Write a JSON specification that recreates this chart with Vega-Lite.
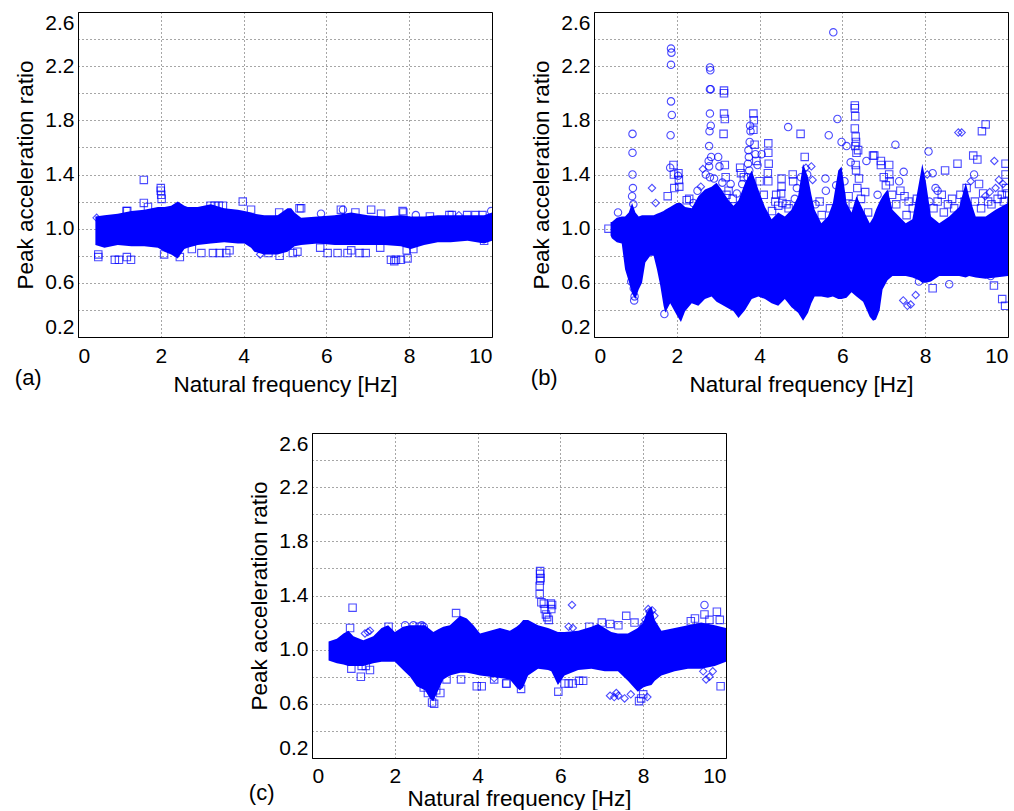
{
  "$schema": "https://vega.github.io/schema/vega-lite/v6.json",
  "padding": {"left": 14, "top": 11, "right": 0, "bottom": 0},
  "background": "white",
  "spacing": 36,
  "datasets": {
    "bandA": [
      {"f": 0.42, "lo": 0.88, "hi": 1.09}, {"f": 0.64, "lo": 0.86, "hi": 1.10}, {"f": 0.96, "lo": 0.88, "hi": 1.11},
      {"f": 1.29, "lo": 0.87, "hi": 1.13}, {"f": 1.60, "lo": 0.87, "hi": 1.14}, {"f": 1.93, "lo": 0.86, "hi": 1.16},
      {"f": 2.09, "lo": 0.83, "hi": 1.16}, {"f": 2.25, "lo": 0.81, "hi": 1.17}, {"f": 2.41, "lo": 0.78, "hi": 1.20},
      {"f": 2.57, "lo": 0.85, "hi": 1.17}, {"f": 2.65, "lo": 0.86, "hi": 1.16}, {"f": 2.89, "lo": 0.88, "hi": 1.16},
      {"f": 3.21, "lo": 0.89, "hi": 1.18}, {"f": 3.53, "lo": 0.90, "hi": 1.15}, {"f": 3.86, "lo": 0.89, "hi": 1.14},
      {"f": 4.02, "lo": 0.89, "hi": 1.13}, {"f": 4.18, "lo": 0.86, "hi": 1.12}, {"f": 4.26, "lo": 0.83, "hi": 1.11},
      {"f": 4.50, "lo": 0.81, "hi": 1.10}, {"f": 4.82, "lo": 0.81, "hi": 1.10}, {"f": 5.06, "lo": 0.83, "hi": 1.15},
      {"f": 5.15, "lo": 0.85, "hi": 1.15}, {"f": 5.23, "lo": 0.87, "hi": 1.12}, {"f": 5.39, "lo": 0.88, "hi": 1.08},
      {"f": 5.79, "lo": 0.89, "hi": 1.09}, {"f": 6.20, "lo": 0.88, "hi": 1.10}, {"f": 6.60, "lo": 0.88, "hi": 1.12},
      {"f": 7.00, "lo": 0.88, "hi": 1.10}, {"f": 7.40, "lo": 0.88, "hi": 1.09}, {"f": 7.80, "lo": 0.87, "hi": 1.10},
      {"f": 8.04, "lo": 0.85, "hi": 1.09}, {"f": 8.36, "lo": 0.88, "hi": 1.09}, {"f": 8.69, "lo": 0.90, "hi": 1.10},
      {"f": 9.00, "lo": 0.90, "hi": 1.10}, {"f": 9.41, "lo": 0.91, "hi": 1.10}, {"f": 9.81, "lo": 0.89, "hi": 1.10},
      {"f": 10.0, "lo": 0.91, "hi": 1.12}
    ],
    "ptsA": [
      {"f": 1.59, "r": 1.36, "m": "s"}, {"f": 2.00, "r": 1.30, "m": "s"}, {"f": 2.00, "r": 1.28, "m": "s"},
      {"f": 2.01, "r": 1.25, "m": "s"}, {"f": 2.02, "r": 1.22, "m": "s"}, {"f": 1.59, "r": 1.19, "m": "s"},
      {"f": 1.69, "r": 1.16, "m": "s"}, {"f": 3.98, "r": 1.20, "m": "s"}, {"f": 5.39, "r": 1.15, "m": "s"},
      {"f": 6.35, "r": 1.14, "m": "s"}, {"f": 7.08, "r": 1.14, "m": "s"}, {"f": 5.87, "r": 1.11, "m": "c"},
      {"f": 7.86, "r": 1.12, "m": "s"}, {"f": 9.03, "r": 1.10, "m": "s"}, {"f": 9.98, "r": 1.13, "m": "c"},
      {"f": 1.17, "r": 1.13, "m": "s"}, {"f": 1.19, "r": 1.13, "m": "s"}, {"f": 3.20, "r": 1.17, "m": "s"},
      {"f": 3.30, "r": 1.17, "m": "s"}, {"f": 3.40, "r": 1.17, "m": "s"}, {"f": 3.50, "r": 1.17, "m": "s"},
      {"f": 4.18, "r": 1.14, "m": "s"}, {"f": 4.86, "r": 1.12, "m": "s"}, {"f": 5.35, "r": 1.15, "m": "s"},
      {"f": 6.40, "r": 1.14, "m": "c"}, {"f": 6.70, "r": 1.12, "m": "s"}, {"f": 7.32, "r": 1.11, "m": "s"},
      {"f": 7.84, "r": 1.13, "m": "s"}, {"f": 8.16, "r": 1.10, "m": "c"}, {"f": 8.50, "r": 1.09, "m": "s"},
      {"f": 8.97, "r": 1.10, "m": "s"}, {"f": 9.20, "r": 1.10, "m": "d"}, {"f": 9.40, "r": 1.10, "m": "s"},
      {"f": 9.60, "r": 1.10, "m": "s"}, {"f": 9.77, "r": 1.10, "m": "s"}, {"f": 0.45, "r": 1.08, "m": "d"},
      {"f": 0.49, "r": 0.79, "m": "s"}, {"f": 0.49, "r": 0.81, "m": "s"}, {"f": 0.89, "r": 0.77, "m": "s"},
      {"f": 0.99, "r": 0.77, "m": "s"}, {"f": 1.18, "r": 0.79, "m": "s"}, {"f": 1.28, "r": 0.77, "m": "s"},
      {"f": 2.08, "r": 0.81, "m": "s"}, {"f": 2.46, "r": 0.79, "m": "s"}, {"f": 2.75, "r": 0.85, "m": "s"},
      {"f": 2.98, "r": 0.82, "m": "s"}, {"f": 3.26, "r": 0.82, "m": "s"}, {"f": 3.42, "r": 0.82, "m": "s"},
      {"f": 3.58, "r": 0.82, "m": "s"}, {"f": 3.66, "r": 0.84, "m": "s"}, {"f": 4.87, "r": 0.80, "m": "s"},
      {"f": 5.19, "r": 0.82, "m": "s"}, {"f": 5.30, "r": 0.83, "m": "s"}, {"f": 5.85, "r": 0.86, "m": "s"},
      {"f": 6.03, "r": 0.82, "m": "s"}, {"f": 6.27, "r": 0.82, "m": "s"}, {"f": 6.51, "r": 0.82, "m": "s"},
      {"f": 6.60, "r": 0.84, "m": "s"}, {"f": 6.80, "r": 0.82, "m": "s"}, {"f": 6.95, "r": 0.82, "m": "s"},
      {"f": 7.30, "r": 0.86, "m": "s"}, {"f": 7.56, "r": 0.77, "m": "s"}, {"f": 7.64, "r": 0.76, "m": "s"},
      {"f": 7.68, "r": 0.77, "m": "s"}, {"f": 7.80, "r": 0.77, "m": "s"}, {"f": 7.96, "r": 0.78, "m": "s"},
      {"f": 7.94, "r": 0.84, "m": "s"}, {"f": 8.10, "r": 0.85, "m": "s"}, {"f": 9.81, "r": 0.91, "m": "s"},
      {"f": 4.60, "r": 0.82, "m": "s"}, {"f": 4.40, "r": 0.81, "m": "d"}
    ],
    "bandB": [
      {"f": 0.40, "lo": 0.95, "hi": 1.05}, {"f": 0.43, "lo": 0.93, "hi": 1.05}, {"f": 0.55, "lo": 0.90, "hi": 1.08},
      {"f": 0.67, "lo": 0.89, "hi": 1.09}, {"f": 0.75, "lo": 0.70, "hi": 1.09}, {"f": 0.84, "lo": 0.61, "hi": 1.12},
      {"f": 0.92, "lo": 0.52, "hi": 1.19}, {"f": 1.00, "lo": 0.48, "hi": 1.12}, {"f": 1.08, "lo": 0.55, "hi": 1.09},
      {"f": 1.16, "lo": 0.60, "hi": 1.10}, {"f": 1.24, "lo": 0.75, "hi": 1.10}, {"f": 1.36, "lo": 0.80, "hi": 1.10},
      {"f": 1.44, "lo": 0.80, "hi": 1.10}, {"f": 1.52, "lo": 0.70, "hi": 1.11}, {"f": 1.60, "lo": 0.58, "hi": 1.12},
      {"f": 1.68, "lo": 0.43, "hi": 1.13}, {"f": 1.72, "lo": 0.38, "hi": 1.14}, {"f": 1.84, "lo": 0.45, "hi": 1.16},
      {"f": 2.00, "lo": 0.36, "hi": 1.19}, {"f": 2.10, "lo": 0.31, "hi": 1.19}, {"f": 2.20, "lo": 0.39, "hi": 1.16},
      {"f": 2.36, "lo": 0.45, "hi": 1.15}, {"f": 2.52, "lo": 0.43, "hi": 1.24}, {"f": 2.68, "lo": 0.48, "hi": 1.29},
      {"f": 2.84, "lo": 0.50, "hi": 1.31}, {"f": 2.96, "lo": 0.46, "hi": 1.34}, {"f": 3.08, "lo": 0.44, "hi": 1.29},
      {"f": 3.25, "lo": 0.41, "hi": 1.21}, {"f": 3.37, "lo": 0.39, "hi": 1.17}, {"f": 3.49, "lo": 0.34, "hi": 1.21},
      {"f": 3.65, "lo": 0.40, "hi": 1.34}, {"f": 3.81, "lo": 0.48, "hi": 1.43}, {"f": 3.97, "lo": 0.50, "hi": 1.29},
      {"f": 4.13, "lo": 0.48, "hi": 1.16}, {"f": 4.29, "lo": 0.45, "hi": 1.07}, {"f": 4.45, "lo": 0.43, "hi": 1.12},
      {"f": 4.61, "lo": 0.48, "hi": 1.09}, {"f": 4.77, "lo": 0.42, "hi": 1.14}, {"f": 4.93, "lo": 0.38, "hi": 1.24},
      {"f": 5.05, "lo": 0.32, "hi": 1.48}, {"f": 5.17, "lo": 0.38, "hi": 1.38}, {"f": 5.25, "lo": 0.45, "hi": 1.25},
      {"f": 5.33, "lo": 0.50, "hi": 1.14}, {"f": 5.49, "lo": 0.50, "hi": 1.04}, {"f": 5.65, "lo": 0.49, "hi": 1.09},
      {"f": 5.77, "lo": 0.50, "hi": 1.19}, {"f": 5.90, "lo": 0.48, "hi": 1.43}, {"f": 5.98, "lo": 0.48, "hi": 1.46},
      {"f": 6.10, "lo": 0.49, "hi": 1.19}, {"f": 6.22, "lo": 0.53, "hi": 1.12}, {"f": 6.34, "lo": 0.50, "hi": 1.24},
      {"f": 6.50, "lo": 0.46, "hi": 1.14}, {"f": 6.66, "lo": 0.35, "hi": 1.04}, {"f": 6.74, "lo": 0.32, "hi": 1.08},
      {"f": 6.81, "lo": 0.33, "hi": 1.14}, {"f": 6.90, "lo": 0.40, "hi": 1.20}, {"f": 6.97, "lo": 0.55, "hi": 1.24},
      {"f": 7.09, "lo": 0.62, "hi": 1.29}, {"f": 7.21, "lo": 0.65, "hi": 1.14}, {"f": 7.37, "lo": 0.65, "hi": 1.09},
      {"f": 7.53, "lo": 0.65, "hi": 1.04}, {"f": 7.69, "lo": 0.64, "hi": 1.07}, {"f": 7.85, "lo": 0.62, "hi": 1.34},
      {"f": 7.93, "lo": 0.60, "hi": 1.48}, {"f": 8.02, "lo": 0.60, "hi": 1.34}, {"f": 8.14, "lo": 0.61, "hi": 1.09},
      {"f": 8.34, "lo": 0.65, "hi": 1.04}, {"f": 8.58, "lo": 0.65, "hi": 1.09}, {"f": 8.82, "lo": 0.65, "hi": 1.16},
      {"f": 8.98, "lo": 0.64, "hi": 1.34}, {"f": 9.06, "lo": 0.65, "hi": 1.24}, {"f": 9.22, "lo": 0.64, "hi": 1.09},
      {"f": 9.46, "lo": 0.63, "hi": 1.09}, {"f": 9.70, "lo": 0.64, "hi": 1.14}, {"f": 10.0, "lo": 0.65, "hi": 1.19}
    ],
    "ptsB": [
      {"f": 0.58, "r": 1.12, "m": "c"}, {"f": 0.93, "r": 1.70, "m": "c"}, {"f": 0.93, "r": 1.56, "m": "c"},
      {"f": 0.93, "r": 1.40, "m": "c"}, {"f": 0.94, "r": 1.30, "m": "c"}, {"f": 0.92, "r": 1.24, "m": "c"},
      {"f": 0.95, "r": 1.18, "m": "c"}, {"f": 0.90, "r": 0.61, "m": "c"}, {"f": 0.97, "r": 0.47, "m": "c"},
      {"f": 0.98, "r": 0.50, "m": "c"}, {"f": 0.96, "r": 0.56, "m": "c"}, {"f": 1.40, "r": 1.30, "m": "d"},
      {"f": 1.49, "r": 1.19, "m": "d"}, {"f": 1.86, "r": 2.33, "m": "c"}, {"f": 1.87, "r": 2.30, "m": "c"},
      {"f": 1.86, "r": 2.21, "m": "c"}, {"f": 1.86, "r": 1.94, "m": "c"}, {"f": 1.88, "r": 1.84, "m": "c"},
      {"f": 1.85, "r": 1.69, "m": "c"}, {"f": 1.84, "r": 1.45, "m": "c"}, {"f": 1.92, "r": 1.47, "m": "s"},
      {"f": 1.93, "r": 1.40, "m": "s"}, {"f": 1.94, "r": 1.30, "m": "s"}, {"f": 2.04, "r": 1.41, "m": "s"},
      {"f": 2.05, "r": 1.36, "m": "s"}, {"f": 2.06, "r": 1.31, "m": "s"}, {"f": 1.78, "r": 1.24, "m": "s"},
      {"f": 2.24, "r": 1.21, "m": "s"}, {"f": 2.03, "r": 1.39, "m": "c"}, {"f": 1.70, "r": 0.37, "m": "c"},
      {"f": 2.80, "r": 2.19, "m": "c"}, {"f": 2.81, "r": 2.17, "m": "c"}, {"f": 2.80, "r": 2.03, "m": "c"},
      {"f": 2.82, "r": 2.03, "m": "c"}, {"f": 2.80, "r": 1.85, "m": "c"}, {"f": 2.82, "r": 1.76, "m": "c"},
      {"f": 2.79, "r": 1.72, "m": "c"}, {"f": 2.78, "r": 1.61, "m": "c"}, {"f": 2.83, "r": 1.53, "m": "c"},
      {"f": 2.77, "r": 1.50, "m": "c"}, {"f": 2.78, "r": 1.46, "m": "c"}, {"f": 2.80, "r": 1.38, "m": "c"},
      {"f": 3.14, "r": 2.02, "m": "s"}, {"f": 3.14, "r": 2.00, "m": "s"}, {"f": 3.14, "r": 1.85, "m": "s"},
      {"f": 3.16, "r": 1.81, "m": "s"}, {"f": 3.13, "r": 1.70, "m": "s"}, {"f": 3.16, "r": 1.47, "m": "s"},
      {"f": 3.18, "r": 1.38, "m": "s"}, {"f": 2.63, "r": 1.44, "m": "d"}, {"f": 2.60, "r": 1.19, "m": "d"},
      {"f": 3.00, "r": 1.53, "m": "c"}, {"f": 3.03, "r": 1.46, "m": "c"}, {"f": 3.10, "r": 1.34, "m": "c"},
      {"f": 2.70, "r": 1.40, "m": "c"}, {"f": 3.30, "r": 1.33, "m": "c"}, {"f": 3.25, "r": 1.28, "m": "s"},
      {"f": 5.78, "r": 2.45, "m": "c"}, {"f": 3.85, "r": 1.85, "m": "s"}, {"f": 3.86, "r": 1.80, "m": "s"},
      {"f": 3.85, "r": 1.73, "m": "s"}, {"f": 3.77, "r": 1.76, "m": "c"}, {"f": 3.78, "r": 1.72, "m": "c"},
      {"f": 3.76, "r": 1.64, "m": "c"}, {"f": 3.73, "r": 1.58, "m": "c"}, {"f": 3.74, "r": 1.53, "m": "c"},
      {"f": 3.72, "r": 1.48, "m": "c"}, {"f": 3.75, "r": 1.43, "m": "c"}, {"f": 3.71, "r": 1.38, "m": "c"},
      {"f": 3.88, "r": 1.62, "m": "s"}, {"f": 3.90, "r": 1.55, "m": "c"}, {"f": 3.92, "r": 1.50, "m": "s"},
      {"f": 4.21, "r": 1.63, "m": "s"}, {"f": 4.21, "r": 1.56, "m": "s"}, {"f": 4.22, "r": 1.48, "m": "s"},
      {"f": 4.20, "r": 1.41, "m": "s"}, {"f": 4.21, "r": 1.35, "m": "s"}, {"f": 3.53, "r": 1.45, "m": "s"},
      {"f": 3.55, "r": 1.41, "m": "s"}, {"f": 3.58, "r": 1.33, "m": "c"}, {"f": 4.69, "r": 1.75, "m": "c"},
      {"f": 4.99, "r": 1.70, "m": "s"}, {"f": 5.09, "r": 1.53, "m": "s"}, {"f": 5.67, "r": 1.69, "m": "c"},
      {"f": 5.88, "r": 1.81, "m": "c"}, {"f": 5.98, "r": 1.64, "m": "c"}, {"f": 6.10, "r": 1.61, "m": "c"},
      {"f": 6.30, "r": 1.91, "m": "s"}, {"f": 6.30, "r": 1.89, "m": "s"}, {"f": 6.31, "r": 1.83, "m": "s"},
      {"f": 6.30, "r": 1.74, "m": "s"}, {"f": 6.32, "r": 1.68, "m": "s"}, {"f": 6.33, "r": 1.64, "m": "s"},
      {"f": 6.31, "r": 1.61, "m": "s"}, {"f": 6.34, "r": 1.56, "m": "s"}, {"f": 6.32, "r": 1.47, "m": "s"},
      {"f": 6.33, "r": 1.43, "m": "s"}, {"f": 6.38, "r": 1.58, "m": "s"}, {"f": 6.40, "r": 1.37, "m": "s"},
      {"f": 6.36, "r": 1.30, "m": "s"}, {"f": 6.58, "r": 1.50, "m": "c"}, {"f": 6.74, "r": 1.54, "m": "s"},
      {"f": 5.59, "r": 1.37, "m": "c"}, {"f": 5.25, "r": 1.46, "m": "d"}, {"f": 5.28, "r": 1.36, "m": "d"},
      {"f": 4.53, "r": 1.37, "m": "s"}, {"f": 4.53, "r": 1.31, "m": "s"}, {"f": 4.52, "r": 1.26, "m": "s"},
      {"f": 4.81, "r": 1.35, "m": "s"}, {"f": 4.80, "r": 1.40, "m": "s"}, {"f": 4.55, "r": 1.19, "m": "s"},
      {"f": 4.05, "r": 1.55, "m": "c"}, {"f": 3.95, "r": 1.47, "m": "c"}, {"f": 4.40, "r": 1.25, "m": "s"},
      {"f": 4.38, "r": 1.20, "m": "s"}, {"f": 5.15, "r": 1.40, "m": "c"}, {"f": 6.20, "r": 1.49, "m": "c"},
      {"f": 5.60, "r": 1.28, "m": "c"}, {"f": 4.90, "r": 1.30, "m": "c"}, {"f": 4.65, "r": 1.18, "m": "s"},
      {"f": 5.45, "r": 1.20, "m": "s"}, {"f": 6.05, "r": 1.35, "m": "c"}, {"f": 6.55, "r": 1.27, "m": "s"},
      {"f": 8.80, "r": 1.71, "m": "d"}, {"f": 8.88, "r": 1.71, "m": "d"}, {"f": 9.37, "r": 1.72, "m": "s"},
      {"f": 9.46, "r": 1.77, "m": "s"}, {"f": 7.28, "r": 1.62, "m": "c"}, {"f": 8.08, "r": 1.57, "m": "c"},
      {"f": 6.77, "r": 1.54, "m": "s"}, {"f": 6.93, "r": 1.50, "m": "s"}, {"f": 6.93, "r": 1.47, "m": "s"},
      {"f": 7.13, "r": 1.47, "m": "s"}, {"f": 7.13, "r": 1.40, "m": "s"}, {"f": 7.14, "r": 1.35, "m": "s"},
      {"f": 7.48, "r": 1.42, "m": "c"}, {"f": 7.37, "r": 1.35, "m": "c"}, {"f": 8.48, "r": 1.43, "m": "s"},
      {"f": 8.78, "r": 1.48, "m": "s"}, {"f": 9.16, "r": 1.54, "m": "s"}, {"f": 9.26, "r": 1.51, "m": "s"},
      {"f": 8.18, "r": 1.41, "m": "c"}, {"f": 9.18, "r": 1.40, "m": "c"}, {"f": 9.67, "r": 1.50, "m": "d"},
      {"f": 9.78, "r": 1.36, "m": "d"}, {"f": 9.56, "r": 1.27, "m": "d"}, {"f": 9.94, "r": 1.48, "m": "s"},
      {"f": 9.94, "r": 1.40, "m": "s"}, {"f": 7.47, "r": 0.47, "m": "d"}, {"f": 7.57, "r": 0.43, "m": "d"},
      {"f": 7.65, "r": 0.44, "m": "d"}, {"f": 7.77, "r": 0.51, "m": "d"}, {"f": 8.18, "r": 0.56, "m": "s"},
      {"f": 9.66, "r": 0.58, "m": "s"}, {"f": 9.86, "r": 0.48, "m": "s"}, {"f": 9.93, "r": 0.43, "m": "s"},
      {"f": 8.58, "r": 0.59, "m": "c"}, {"f": 7.85, "r": 0.61, "m": "c"}, {"f": 9.58, "r": 0.65, "m": "c"},
      {"f": 8.30, "r": 1.20, "m": "s"}, {"f": 8.40, "r": 1.25, "m": "s"}, {"f": 8.20, "r": 1.15, "m": "s"},
      {"f": 8.25, "r": 1.30, "m": "c"}, {"f": 8.30, "r": 1.28, "m": "c"}, {"f": 7.60, "r": 1.20, "m": "s"},
      {"f": 7.70, "r": 1.15, "m": "s"}, {"f": 7.40, "r": 1.28, "m": "s"}, {"f": 7.50, "r": 1.24, "m": "s"},
      {"f": 8.65, "r": 1.22, "m": "s"}, {"f": 8.70, "r": 1.15, "m": "s"}, {"f": 9.00, "r": 1.30, "m": "s"},
      {"f": 9.30, "r": 1.33, "m": "s"}, {"f": 9.40, "r": 1.26, "m": "s"}, {"f": 9.45, "r": 1.24, "m": "d"},
      {"f": 9.85, "r": 1.25, "m": "s"}, {"f": 9.95, "r": 1.30, "m": "s"}, {"f": 9.88, "r": 1.33, "m": "d"},
      {"f": 7.00, "r": 1.38, "m": "s"}, {"f": 7.20, "r": 1.25, "m": "s"}, {"f": 8.95, "r": 1.20, "m": "s"},
      {"f": 9.60, "r": 1.18, "m": "s"}, {"f": 9.75, "r": 1.22, "m": "s"}, {"f": 0.35, "r": 1.00, "m": "s"},
      {"f": 2.30, "r": 1.22, "m": "s"}, {"f": 2.40, "r": 1.19, "m": "c"}, {"f": 2.50, "r": 1.28, "m": "c"},
      {"f": 2.58, "r": 1.31, "m": "d"}, {"f": 2.90, "r": 1.37, "m": "c"}, {"f": 3.20, "r": 1.25, "m": "s"},
      {"f": 3.35, "r": 1.22, "m": "s"}, {"f": 3.45, "r": 1.26, "m": "c"}, {"f": 3.62, "r": 1.38, "m": "s"},
      {"f": 4.00, "r": 1.35, "m": "s"}, {"f": 4.10, "r": 1.25, "m": "s"}, {"f": 4.30, "r": 1.13, "m": "s"},
      {"f": 4.45, "r": 1.17, "m": "s"}, {"f": 4.70, "r": 1.15, "m": "s"}, {"f": 4.85, "r": 1.22, "m": "c"},
      {"f": 5.00, "r": 1.38, "m": "c"}, {"f": 5.12, "r": 1.45, "m": "d"}, {"f": 5.35, "r": 1.18, "m": "c"},
      {"f": 5.50, "r": 1.10, "m": "s"}, {"f": 5.70, "r": 1.15, "m": "s"}, {"f": 5.85, "r": 1.32, "m": "c"},
      {"f": 6.15, "r": 1.24, "m": "s"}, {"f": 6.25, "r": 1.18, "m": "s"}, {"f": 6.45, "r": 1.22, "m": "s"},
      {"f": 6.62, "r": 1.12, "m": "s"}, {"f": 6.85, "r": 1.25, "m": "c"}, {"f": 7.05, "r": 1.32, "m": "s"},
      {"f": 7.30, "r": 1.18, "m": "s"}, {"f": 7.55, "r": 1.10, "m": "s"}, {"f": 7.80, "r": 1.22, "m": "s"},
      {"f": 8.05, "r": 1.40, "m": "d"}, {"f": 8.10, "r": 1.20, "m": "c"}, {"f": 8.45, "r": 1.12, "m": "s"},
      {"f": 8.55, "r": 1.18, "m": "s"}, {"f": 8.85, "r": 1.25, "m": "s"}, {"f": 9.10, "r": 1.35, "m": "d"},
      {"f": 9.20, "r": 1.20, "m": "s"}, {"f": 9.35, "r": 1.15, "m": "s"}, {"f": 9.52, "r": 1.20, "m": "s"},
      {"f": 9.70, "r": 1.30, "m": "d"}, {"f": 9.90, "r": 1.20, "m": "s"}, {"f": 9.98, "r": 1.26, "m": "s"}
    ],
    "bandC": [
      {"f": 0.40, "lo": 0.92, "hi": 1.06}, {"f": 0.60, "lo": 0.90, "hi": 1.08}, {"f": 0.76, "lo": 0.89, "hi": 1.12},
      {"f": 0.88, "lo": 0.88, "hi": 1.14}, {"f": 1.00, "lo": 0.88, "hi": 1.10}, {"f": 1.24, "lo": 0.88, "hi": 1.07},
      {"f": 1.48, "lo": 0.90, "hi": 1.10}, {"f": 1.68, "lo": 0.91, "hi": 1.16}, {"f": 1.84, "lo": 0.91, "hi": 1.18},
      {"f": 2.00, "lo": 0.91, "hi": 1.13}, {"f": 2.20, "lo": 0.85, "hi": 1.17}, {"f": 2.37, "lo": 0.80, "hi": 1.18},
      {"f": 2.53, "lo": 0.73, "hi": 1.18}, {"f": 2.73, "lo": 0.70, "hi": 1.18}, {"f": 2.85, "lo": 0.64, "hi": 1.15},
      {"f": 2.93, "lo": 0.62, "hi": 1.13}, {"f": 3.05, "lo": 0.70, "hi": 1.15}, {"f": 3.17, "lo": 0.78, "hi": 1.17},
      {"f": 3.33, "lo": 0.81, "hi": 1.18}, {"f": 3.58, "lo": 0.83, "hi": 1.25}, {"f": 3.74, "lo": 0.83, "hi": 1.23},
      {"f": 3.90, "lo": 0.82, "hi": 1.18}, {"f": 4.06, "lo": 0.81, "hi": 1.12}, {"f": 4.30, "lo": 0.80, "hi": 1.14},
      {"f": 4.54, "lo": 0.79, "hi": 1.16}, {"f": 4.78, "lo": 0.78, "hi": 1.14}, {"f": 4.94, "lo": 0.72, "hi": 1.17},
      {"f": 5.02, "lo": 0.70, "hi": 1.19}, {"f": 5.10, "lo": 0.72, "hi": 1.22}, {"f": 5.22, "lo": 0.81, "hi": 1.22},
      {"f": 5.46, "lo": 0.86, "hi": 1.18}, {"f": 5.70, "lo": 0.85, "hi": 1.16}, {"f": 5.78, "lo": 0.84, "hi": 1.15},
      {"f": 5.94, "lo": 0.74, "hi": 1.13}, {"f": 6.10, "lo": 0.81, "hi": 1.13}, {"f": 6.43, "lo": 0.85, "hi": 1.14},
      {"f": 6.75, "lo": 0.86, "hi": 1.17}, {"f": 6.91, "lo": 0.85, "hi": 1.19}, {"f": 7.07, "lo": 0.84, "hi": 1.16},
      {"f": 7.23, "lo": 0.84, "hi": 1.13}, {"f": 7.39, "lo": 0.84, "hi": 1.12}, {"f": 7.63, "lo": 0.77, "hi": 1.12},
      {"f": 7.87, "lo": 0.69, "hi": 1.16}, {"f": 8.00, "lo": 0.72, "hi": 1.20}, {"f": 8.08, "lo": 0.73, "hi": 1.27},
      {"f": 8.20, "lo": 0.74, "hi": 1.32}, {"f": 8.28, "lo": 0.77, "hi": 1.22}, {"f": 8.44, "lo": 0.81, "hi": 1.14},
      {"f": 8.76, "lo": 0.84, "hi": 1.16}, {"f": 9.08, "lo": 0.86, "hi": 1.18}, {"f": 9.40, "lo": 0.86, "hi": 1.20},
      {"f": 9.73, "lo": 0.88, "hi": 1.18}, {"f": 10.0, "lo": 0.91, "hi": 1.16}
    ],
    "ptsC": [
      {"f": 0.98, "r": 1.31, "m": "s"}, {"f": 0.92, "r": 1.16, "m": "s"}, {"f": 1.28, "r": 1.12, "m": "d"},
      {"f": 1.35, "r": 1.13, "m": "d"}, {"f": 1.40, "r": 1.14, "m": "d"}, {"f": 1.18, "r": 0.80, "m": "s"},
      {"f": 0.95, "r": 0.86, "m": "s"}, {"f": 1.40, "r": 0.85, "m": "s"}, {"f": 1.20, "r": 0.88, "m": "s"},
      {"f": 3.48, "r": 1.27, "m": "s"}, {"f": 2.25, "r": 1.18, "m": "c"}, {"f": 2.45, "r": 1.18, "m": "c"},
      {"f": 2.65, "r": 1.18, "m": "c"}, {"f": 2.70, "r": 1.17, "m": "c"}, {"f": 2.60, "r": 1.17, "m": "s"},
      {"f": 1.85, "r": 1.17, "m": "s"}, {"f": 3.98, "r": 0.73, "m": "s"}, {"f": 4.10, "r": 0.73, "m": "s"},
      {"f": 4.70, "r": 0.75, "m": "s"}, {"f": 4.40, "r": 0.78, "m": "s"}, {"f": 3.21, "r": 0.85, "m": "s"},
      {"f": 3.25, "r": 0.78, "m": "s"}, {"f": 3.10, "r": 0.68, "m": "s"}, {"f": 3.00, "r": 0.70, "m": "s"},
      {"f": 2.95, "r": 0.60, "m": "s"}, {"f": 2.90, "r": 0.61, "m": "s"}, {"f": 5.51, "r": 1.58, "m": "s"},
      {"f": 5.51, "r": 1.56, "m": "s"}, {"f": 5.52, "r": 1.53, "m": "s"}, {"f": 5.51, "r": 1.51, "m": "s"},
      {"f": 5.50, "r": 1.47, "m": "s"}, {"f": 5.50, "r": 1.41, "m": "s"}, {"f": 5.54, "r": 1.35, "m": "s"},
      {"f": 5.60, "r": 1.34, "m": "s"}, {"f": 5.62, "r": 1.30, "m": "s"}, {"f": 5.65, "r": 1.26, "m": "s"},
      {"f": 5.68, "r": 1.24, "m": "s"}, {"f": 5.72, "r": 1.22, "m": "s"}, {"f": 5.78, "r": 1.30, "m": "s"},
      {"f": 5.77, "r": 1.34, "m": "s"}, {"f": 5.80, "r": 1.33, "m": "s"}, {"f": 6.28, "r": 1.33, "m": "d"},
      {"f": 6.20, "r": 1.17, "m": "d"}, {"f": 6.30, "r": 1.16, "m": "d"}, {"f": 8.12, "r": 1.30, "m": "d"},
      {"f": 8.15, "r": 1.28, "m": "d"}, {"f": 8.22, "r": 1.29, "m": "d"}, {"f": 8.27, "r": 1.25, "m": "d"},
      {"f": 8.05, "r": 1.22, "m": "d"}, {"f": 8.00, "r": 1.18, "m": "d"}, {"f": 7.95, "r": 1.15, "m": "d"},
      {"f": 7.59, "r": 1.25, "m": "s"}, {"f": 7.79, "r": 1.20, "m": "s"}, {"f": 9.48, "r": 1.33, "m": "c"},
      {"f": 9.78, "r": 1.28, "m": "s"}, {"f": 9.48, "r": 1.26, "m": "s"}, {"f": 9.85, "r": 1.22, "m": "s"},
      {"f": 9.60, "r": 1.22, "m": "s"}, {"f": 9.25, "r": 1.23, "m": "s"}, {"f": 9.15, "r": 1.21, "m": "s"},
      {"f": 7.40, "r": 1.18, "m": "s"}, {"f": 7.20, "r": 1.19, "m": "s"}, {"f": 7.00, "r": 1.20, "m": "s"},
      {"f": 6.70, "r": 1.17, "m": "s"}, {"f": 7.20, "r": 0.66, "m": "d"}, {"f": 7.30, "r": 0.65, "m": "d"},
      {"f": 7.40, "r": 0.66, "m": "d"}, {"f": 7.55, "r": 0.64, "m": "d"}, {"f": 7.70, "r": 0.67, "m": "d"},
      {"f": 7.35, "r": 0.68, "m": "d"}, {"f": 7.90, "r": 0.62, "m": "s"}, {"f": 7.95, "r": 0.64, "m": "s"},
      {"f": 8.00, "r": 0.67, "m": "s"}, {"f": 8.10, "r": 0.65, "m": "d"}, {"f": 9.45, "r": 0.84, "m": "d"},
      {"f": 9.52, "r": 0.78, "m": "d"}, {"f": 9.60, "r": 0.80, "m": "d"}, {"f": 9.68, "r": 0.84, "m": "d"},
      {"f": 9.87, "r": 0.73, "m": "s"}, {"f": 6.10, "r": 0.75, "m": "s"}, {"f": 6.20, "r": 0.75, "m": "s"},
      {"f": 6.30, "r": 0.75, "m": "s"}, {"f": 6.45, "r": 0.77, "m": "s"}, {"f": 6.55, "r": 0.77, "m": "s"},
      {"f": 5.95, "r": 0.69, "m": "s"}, {"f": 4.69, "r": 0.75, "m": "s"}, {"f": 5.05, "r": 0.71, "m": "s"},
      {"f": 4.40, "r": 0.79, "m": "d"}, {"f": 2.70, "r": 0.72, "m": "s"}, {"f": 2.80, "r": 0.68, "m": "s"},
      {"f": 3.60, "r": 0.78, "m": "s"}, {"f": 1.30, "r": 0.88, "m": "s"}
    ]
  },
  "vconcat": [
    {
      "hconcat": [
        {
          "width": 414, "height": 325,
          "title": {"text": "(a)", "orient": "bottom", "anchor": "start", "frame": "bounds", "offset": -28},
          "encoding": {
            "x": {"field": "f", "type": "quantitative", "title": "Natural frequency [Hz]", "scale": {"domain": [0, 10], "nice": false}, "axis": {"values": [0, 2, 4, 6, 8, 10]}}
          },
          "layer": [
            {"data": {"name": "bandA"}, "mark": {"type": "area", "color": "#0000ff", "clip": true},
             "encoding": {"y": {"field": "lo", "type": "quantitative", "title": "Peak acceleration ratio", "scale": {"domain": [0.2, 2.6], "nice": false, "zero": false}}, "y2": {"field": "hi"}}},
            {"data": {"name": "ptsA"}, "mark": {"type": "point", "filled": false, "color": "#0000ff", "size": 55, "strokeWidth": 1.1, "clip": true},
             "encoding": {"y": {"field": "r", "type": "quantitative", "title": "Peak acceleration ratio"}, "shape": {"field": "m", "type": "nominal", "scale": {"domain": ["c", "s", "d"], "range": ["circle", "square", "diamond"]}, "legend": null}}}
          ]
        },
        {
          "width": 414, "height": 325,
          "title": {"text": "(b)", "orient": "bottom", "anchor": "start", "frame": "bounds", "offset": -28},
          "encoding": {
            "x": {"field": "f", "type": "quantitative", "title": "Natural frequency [Hz]", "scale": {"domain": [0, 10], "nice": false}, "axis": {"values": [0, 2, 4, 6, 8, 10]}}
          },
          "layer": [
            {"data": {"name": "bandB"}, "mark": {"type": "area", "color": "#0000ff", "clip": true},
             "encoding": {"y": {"field": "lo", "type": "quantitative", "title": "Peak acceleration ratio", "scale": {"domain": [0.2, 2.6], "nice": false, "zero": false}}, "y2": {"field": "hi"}}},
            {"data": {"name": "ptsB"}, "mark": {"type": "point", "filled": false, "color": "#0000ff", "size": 55, "strokeWidth": 1.1, "clip": true},
             "encoding": {"y": {"field": "r", "type": "quantitative", "title": "Peak acceleration ratio"}, "shape": {"field": "m", "type": "nominal", "scale": {"domain": ["c", "s", "d"], "range": ["circle", "square", "diamond"]}, "legend": null}}}
          ]
        }
      ],
      "bounds": "flush",
      "spacing": 102
    },
    {
      "hconcat": [
        {
          "width": 214, "height": 10,
          "data": {"values": []},
          "mark": "point",
          "view": {"stroke": null}
        },
        {
          "width": 414, "height": 325,
          "title": {"text": "(c)", "orient": "bottom", "anchor": "start", "frame": "bounds", "offset": -27},
          "encoding": {
            "x": {"field": "f", "type": "quantitative", "title": "Natural frequency [Hz]", "scale": {"domain": [0, 10], "nice": false}, "axis": {"values": [0, 2, 4, 6, 8, 10], "labelPadding": 7, "titlePadding": 1}}
          },
          "layer": [
            {"data": {"name": "bandC"}, "mark": {"type": "area", "color": "#0000ff", "clip": true},
             "encoding": {"y": {"field": "lo", "type": "quantitative", "title": "Peak acceleration ratio", "scale": {"domain": [0.2, 2.6], "nice": false, "zero": false}}, "y2": {"field": "hi"}}},
            {"data": {"name": "ptsC"}, "mark": {"type": "point", "filled": false, "color": "#0000ff", "size": 55, "strokeWidth": 1.1, "clip": true},
             "encoding": {"y": {"field": "r", "type": "quantitative", "title": "Peak acceleration ratio"}, "shape": {"field": "m", "type": "nominal", "scale": {"domain": ["c", "s", "d"], "range": ["circle", "square", "diamond"]}, "legend": null}}}
          ]
        }
      ],
      "bounds": "flush",
      "spacing": 20
    }
  ],
  "config": {
    "font": "Liberation Sans",
    "view": {"stroke": "#000000", "strokeWidth": 1},
    "title": {"fontSize": 22, "fontWeight": "normal", "color": "#000000", "font": "Liberation Sans"},
    "axis": {
      "grid": true, "gridColor": "#000000", "gridDash": [1, 3], "gridOpacity": 0.7, "gridWidth": 1,
      "domain": false, "ticks": false, "tickSize": 0,
      "labelFontSize": 21, "titleFontSize": 22.5, "titleFontWeight": "normal",
      "labelColor": "#000000", "titleColor": "#000000", "labelFlush": true
    },
    "axisX": {"labelPadding": 8, "titlePadding": 7},
    "axisY": {
      "values": [0.2, 0.4, 0.6, 0.8, 1.0, 1.2, 1.4, 1.6, 1.8, 2.0, 2.2, 2.4, 2.6],
      "labelExpr": "round(datum.value * 10) % 4 == 2 ? format(datum.value, '.1f') : ''",
      "labelPadding": 4, "titlePadding": 7
    }
  }
}
